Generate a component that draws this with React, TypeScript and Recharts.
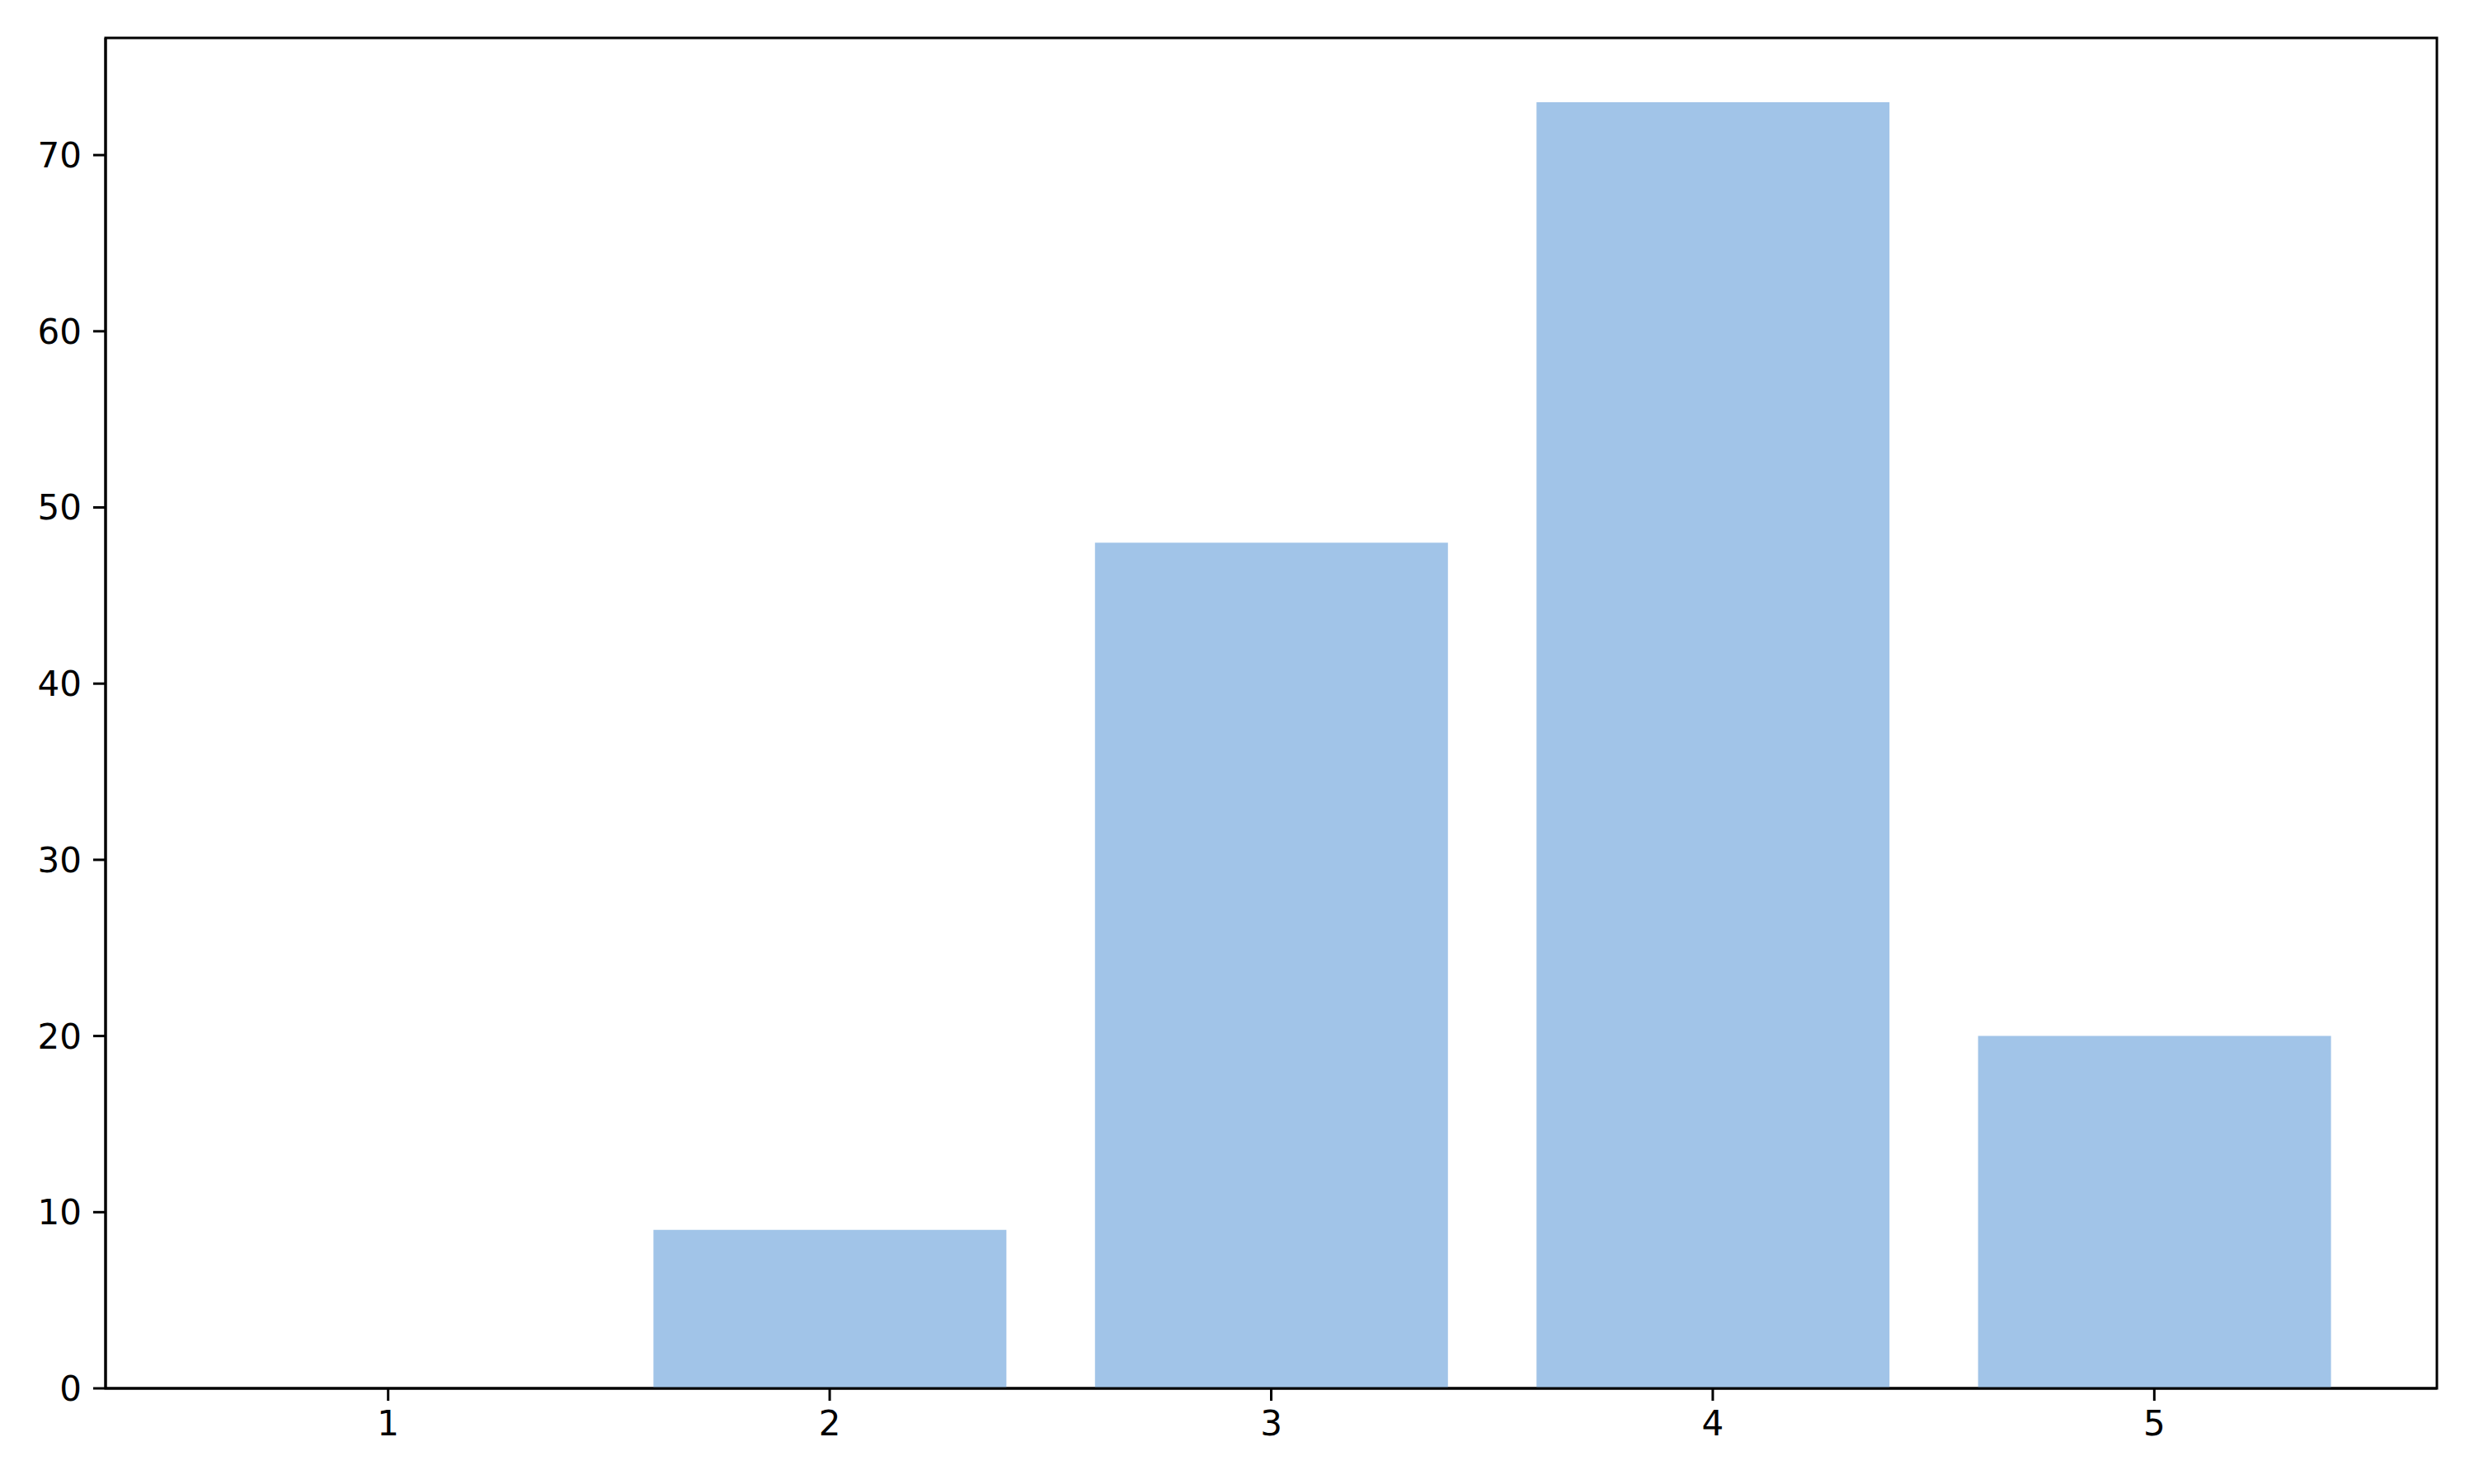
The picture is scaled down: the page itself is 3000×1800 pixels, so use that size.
import { BarChart, Bar, XAxis, YAxis, ReferenceArea } from "recharts";

// values
const categories = [1, 2, 3, 4, 5];
const counts = [0, 9, 48, 73, 20];
const yTicks = [0, 10, 20, 30, 40, 50, 60, 70];

const data = categories.map((c, i) => ({ x: c, count: counts[i] }));

const X_DOMAIN: [number, number] = [0.36, 5.64];
const Y_DOMAIN: [number, number] = [0, 76.65];

const BAR_COLOR = "#a1c4e8";
const FONT = "'DejaVu Sans', sans-serif";
const tickStyle = { fontSize: 42, fill: "#000", fontFamily: FONT };

export default function App() {
  return (
    <div style={{ position: "absolute", left: 0, top: 0, width: 3000, height: 1800, background: "#fff" }}>
      <BarChart
        width={3000}
        height={1800}
        data={data}
        margin={{ top: 46, right: 45, left: 0, bottom: 0 }}
      >
        <XAxis
          dataKey="x"
          type="number"
          domain={X_DOMAIN}
          ticks={categories}
          allowDataOverflow
          height={116}
          tick={tickStyle}
          tickSize={15}
          tickMargin={12}
          stroke="#000"
          strokeWidth={3}
        />
        <YAxis
          domain={Y_DOMAIN}
          ticks={yTicks}
          allowDataOverflow
          width={128}
          tick={tickStyle}
          tickSize={15}
          tickMargin={14}
          stroke="#000"
          strokeWidth={3}
        />
        <Bar dataKey="count" fill={BAR_COLOR} barSize={428} isAnimationActive={false} />
        {/* frame around the plot area, like matplotlib spines */}
        <ReferenceArea
          x1={X_DOMAIN[0]}
          x2={X_DOMAIN[1]}
          y1={Y_DOMAIN[0]}
          y2={Y_DOMAIN[1]}
          fill="none"
          stroke="#000"
          strokeWidth={3}
          ifOverflow="visible"
        />
      </BarChart>
    </div>
  );
}
